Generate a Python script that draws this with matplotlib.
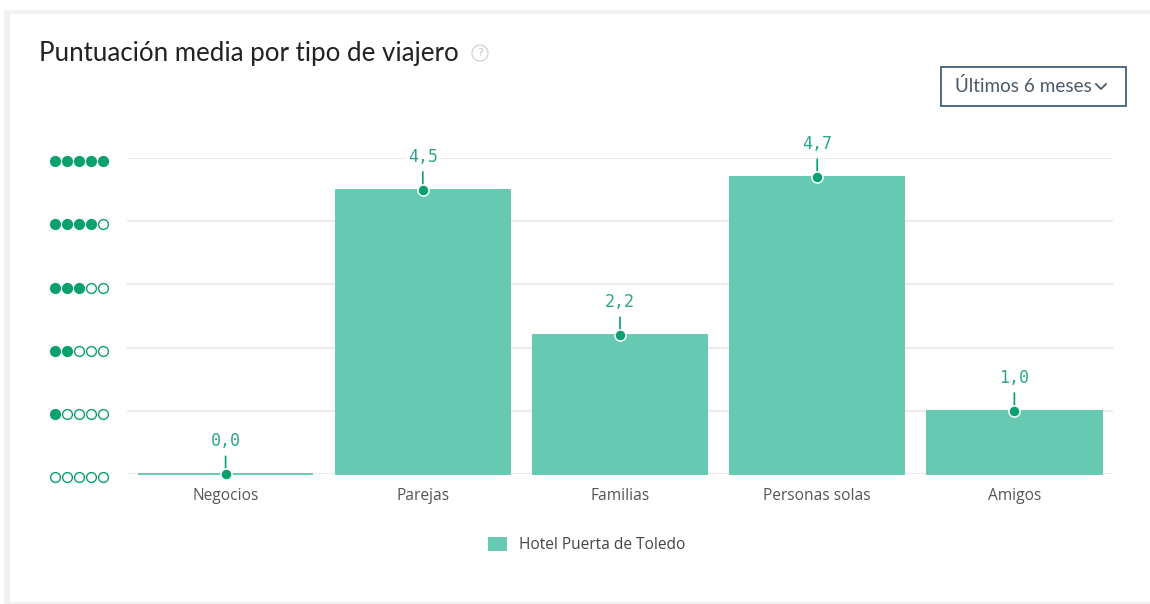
import matplotlib
matplotlib.use("Agg")
import matplotlib.pyplot as plt
from matplotlib.patches import Rectangle, Circle
from matplotlib import transforms

categories = ["Negocios", "Parejas", "Familias", "Personas solas", "Amigos"]
scores = [0.0, 4.5, 2.2, 4.7, 1.0]
value_labels = ["0,0", "4,5", "2,2", "4,7", "1,0"]
series_name = "Hotel Puerta de Toledo"
title = "Puntuación media por tipo de viajero"
period_label = "Últimos 6 meses"
star_levels = [0, 1, 2, 3, 4, 5]

W, H = 1150, 604
BAR = "#66c9b1"
DARK = "#0aa070"
LABEL = "#2aa68a"

fig = plt.figure(figsize=(W / 100, H / 100), dpi=100)
fig.patch.set_facecolor("white")

def fx(px):
    return px / W

def fy(py):
    return 1 - py / H

# background axes in pixel coordinates (y down)
bg = fig.add_axes([0, 0, 1, 1])
bg.set_xlim(0, W)
bg.set_ylim(H, 0)
bg.axis("off")
bg.set_zorder(0)
bg.add_patch(Rectangle((4, 10), W - 4, H - 10, facecolor="#f1f1f1", edgecolor="none"))
bg.add_patch(Rectangle((10, 14), W - 10, 588, facecolor="white", edgecolor="none"))

# title and help icon
bg.text(39, 61.5, title, fontsize=18.6, color="#222222", family="Lato",
        ha="left", va="baseline")
bg.add_patch(Circle((480, 53), 8, facecolor="white", edgecolor="#d6d6d6", linewidth=1.0))
bg.text(480, 53.5, "?", fontsize=8, color="#c8c8c8", ha="center", va="center",
        family="DejaVu Sans")

# dropdown button
bg.add_patch(Rectangle((940.5, 67), 185, 39, facecolor="white", edgecolor="#40607e",
                       linewidth=1.3))
bg.text(955, 92.5, period_label, fontsize=13.6, color="#4d5a68", family="Lato",
        ha="left", va="baseline")
bg.plot([1096, 1101, 1106], [84, 89, 84], color="#4d5a68", linewidth=1.3)

# main chart axes
ax_left, ax_right = 127, 1113
ax_top, ax_bottom = 158, 474
ax = fig.add_axes([fx(ax_left), fy(ax_bottom), fx(ax_right - ax_left), (ax_bottom - ax_top) / H])
ax.set_facecolor("none")
ax.set_zorder(2)

x = list(range(len(categories)))
bars = ax.bar(x, scores, width=0.885, color=BAR, edgecolor=BAR, linewidth=1.4, zorder=3,
              label=series_name)
for b in bars:
    b.set_clip_on(False)
ax.set_xlim(-0.5, len(categories) - 0.5)
ax.set_ylim(0, 5)

ax.set_yticks(star_levels)
ax.set_yticklabels([])
ax.tick_params(axis="y", length=0)
ax.grid(axis="y", color="#ececec", linewidth=1.6, zorder=0)
ax.set_axisbelow(True)
ax.set_xticks(x)
ax.set_xticklabels(categories, fontsize=11.2, color="#555555", family="Open Sans")
ax.tick_params(axis="x", length=0, pad=10)
for s in ax.spines.values():
    s.set_visible(False)

# markers, stems, value labels
ax.scatter(x, scores, s=64, color=DARK, edgecolor="white", linewidth=1.1, zorder=6, clip_on=False)
for xi, v, lab in zip(x, scores, value_labels):
    ax.annotate("", xy=(xi, v), xytext=(0, 12.8), textcoords="offset points",
                arrowprops=dict(arrowstyle="-", color=DARK, lw=1.2, shrinkA=0, shrinkB=0),
                zorder=5, annotation_clip=False)
    ax.annotate(lab, xy=(xi, v), xytext=(0, 23.5), textcoords="offset points",
                ha="center", va="center", fontsize=12, color=LABEL, family="DejaVu Sans Mono",
                bbox=dict(boxstyle="square,pad=0.12", facecolor="white", edgecolor="none"),
                zorder=7, annotation_clip=False)

# star-dot tick icons
trans = transforms.blended_transform_factory(fig.transFigure, ax.transData)
dot_x = [55, 67, 79, 91, 103]
for lvl in star_levels:
    for i, dx in enumerate(dot_x):
        filled = i < lvl
        ax.scatter([fx(dx)], [lvl - 0.05], transform=trans, s=50,
                   facecolor=DARK if filled else "white", edgecolor=DARK,
                   linewidth=1.0, clip_on=False, zorder=6)

# legend
fig.legend(handles=[Rectangle((0, 0), 1, 1, facecolor=BAR, edgecolor="none")],
           labels=[series_name], loc="center", bbox_to_anchor=(fx(587), fy(545)),
           frameon=False, handlelength=1.22, handleheight=1.03,
           handletextpad=0.75, prop={"family": "Open Sans", "size": 11.2},
           labelcolor="#444444")

fig.savefig("out.png", dpi=100, facecolor=fig.get_facecolor())
